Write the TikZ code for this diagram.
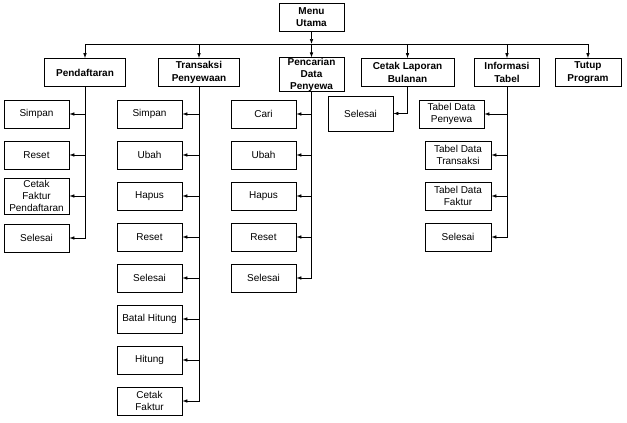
\documentclass[tikz,border=0pt]{standalone}
\usepackage{fontspec}
\setmainfont{Liberation Sans}
\usetikzlibrary{arrows.meta}
\begin{document}
\begin{tikzpicture}[x=1pt, y=-1pt, line width=0.7pt,
    arr/.style={-{Latex[length=5pt,width=3.6pt]}},
    menubox/.style={draw, align=center, inner sep=0pt, minimum width=65pt, minimum height=28pt,
        font=\fontsize{10}{12.5}\selectfont\bfseries},
    leaf/.style={draw, align=center, inner sep=0pt, minimum width=65pt, minimum height=28pt,
        font=\fontsize{10}{12.5}\selectfont}]
    \useasboundingbox (0,0) rectangle (627,423);
    \node[menubox] (menu) at (311.5,17) {Menu\\Utama};
    \node[menubox, minimum width=81pt] (pend) at (85,72.5) {Pendaftaran};
    \node[menubox, minimum width=81pt] (trans) at (199,72.5) {Transaksi\\Penyewaan};
    \node[menubox, minimum height=33pt, font=\fontsize{10}{12}\selectfont\bfseries] (cari) at (311.5,74.5) {Pencarian\\Data\\Penyewa};
    \node[menubox, minimum width=93pt] (lap) at (407.5,72.5) {Cetak Laporan\\Bulanan};
    \node[menubox] (info) at (507,72.5) {Informasi\\Tabel};
    \node[menubox, minimum width=66pt] (tutup) at (588,72.5) {Tutup\\Program};
    \coordinate (bus) at (311.5,44);
    \draw[arr] (menu) -- (bus);
    \draw (bus -| pend) -- (bus -| tutup);
    \foreach \n in {pend,trans,cari,lap,info,tutup}
        \draw[arr] (bus -| \n) -- (\n.north);

    \node[leaf] (pd1) at (36.5,114) {Simpan};
    \node[leaf] (pd2) at (36.5,155) {Reset};
    \node[leaf, minimum height=36pt, font=\fontsize{10}{12}\selectfont] (pd3) at (36.5,196) {Cetak\\Faktur\\Pendaftaran};
    \node[leaf] (pd4) at (36.5,238) {Selesai};
    \foreach \i in {1,...,4}
        \draw[arr] (pend.south) |- (pd\i.east);

    \foreach \t [count=\i] in {Simpan, Ubah, Hapus, Reset, Selesai, Batal Hitung, Hitung, {Cetak\\Faktur}}
        \node[leaf] (tr\i) at (149.5,{114+41*(\i-1)}) {\t};
    \foreach \i in {1,...,8}
        \draw[arr] (trans.south) |- (tr\i.east);

    \foreach \t [count=\i] in {Cari, Ubah, Hapus, Reset, Selesai}
        \node[leaf] (cr\i) at (263.5,{114+41*(\i-1)}) {\t};
    \foreach \i in {1,...,5}
        \draw[arr] (cari.south) |- (cr\i.east);

    \node[leaf, minimum height=35pt] (lp1) at (360.5,113.5) {Selesai};
    \draw[arr] (lap.south) |- (lp1.east);

    \node[leaf] (tb1) at (451.5,114) {Tabel Data\\Penyewa};
    \foreach \t [count=\i from 2] in {{Tabel Data\\Transaksi}, {Tabel Data\\Faktur}, Selesai}
        \node[leaf, minimum width=66pt] (tb\i) at (458,{114+41*(\i-1)}) {\t};
    \foreach \i in {1,...,4}
        \draw[arr] (info.south) |- (tb\i.east);
\end{tikzpicture}
\end{document}
